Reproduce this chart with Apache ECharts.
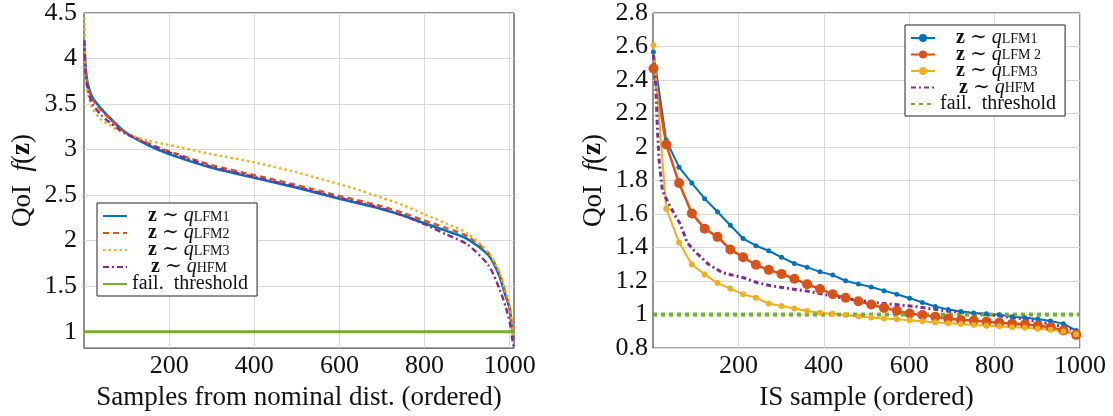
<!DOCTYPE html>
<html>
<head>
<meta charset="utf-8">
<script src="https://cdn.jsdelivr.net/npm/echarts@6/dist/echarts.min.js"></script>
<style>
  html, body { margin: 0; padding: 0; background: #ffffff; }
  #chart { width: 1113px; height: 416px; }
</style>
</head>
<body>
<div id="chart"></div>
<script>
// ---- Left panel: QoI of samples drawn from the nominal distribution (sorted) ----
const nomSampleX = [1, 3, 6, 10, 20, 40, 60, 80, 100, 150, 200, 300, 400, 500, 600, 650, 700, 750, 800, 850, 900, 950, 975, 990, 1000, 1005, 1009];
const nomLFM1 = [4.15, 3.95, 3.80, 3.70, 3.57, 3.45, 3.35, 3.26, 3.18, 3.05, 2.95, 2.80, 2.69, 2.58, 2.46, 2.405, 2.345, 2.275, 2.19, 2.11, 2.02, 1.84, 1.62, 1.40, 1.25, 1.05, 0.92];
const nomLFM2 = [4.10, 3.90, 3.78, 3.68, 3.55, 3.43, 3.34, 3.25, 3.18, 3.07, 2.98, 2.83, 2.72, 2.61, 2.49, 2.435, 2.375, 2.305, 2.22, 2.14, 2.05, 1.86, 1.65, 1.42, 1.25, 1.05, 0.93];
const nomLFM3 = [4.45, 3.95, 3.72, 3.60, 3.45, 3.33, 3.27, 3.21, 3.17, 3.10, 3.05, 2.95, 2.86, 2.75, 2.62, 2.55, 2.47, 2.39, 2.29, 2.19, 2.08, 1.87, 1.66, 1.45, 1.30, 1.08, 0.93];
const nomHFM  = [4.20, 3.90, 3.75, 3.63, 3.50, 3.38, 3.30, 3.23, 3.17, 3.06, 2.97, 2.81, 2.70, 2.59, 2.47, 2.415, 2.355, 2.275, 2.18, 2.07, 1.96, 1.73, 1.48, 1.28, 1.10, 0.95, 0.84];
const nomThresholdX = [0, 1010];
const nomTicksX = [200, 400, 600, 800, 1000];
const nomTicksY = [1, 1.5, 2, 2.5, 3, 3.5, 4, 4.5];

// ---- Right panel: QoI of importance-sampling draws (sorted) ----
const isSampleX = [1, 31, 61, 91, 121, 151, 181, 211, 241, 271, 301, 331, 361, 391, 421, 451, 481, 511, 541, 571, 601, 631, 661, 691, 721, 751, 781, 811, 841, 871, 901, 931, 961, 991];
const isLFM1 = [2.567, 2.04, 1.88, 1.785, 1.692, 1.614, 1.533, 1.454, 1.411, 1.381, 1.342, 1.305, 1.283, 1.255, 1.236, 1.202, 1.182, 1.165, 1.143, 1.121, 1.098, 1.072, 1.048, 1.031, 1.019, 1.009, 1.005, 0.999, 0.987, 0.981, 0.974, 0.962, 0.946, 0.905];
const isLFM2 = [2.469, 2.015, 1.785, 1.604, 1.513, 1.464, 1.389, 1.342, 1.297, 1.267, 1.243, 1.214, 1.181, 1.153, 1.121, 1.101, 1.080, 1.060, 1.040, 1.023, 1.007, 0.997, 0.987, 0.977, 0.968, 0.964, 0.958, 0.952, 0.946, 0.942, 0.934, 0.924, 0.905, 0.879];
const isLFM3 = [2.607, 1.632, 1.431, 1.299, 1.240, 1.188, 1.155, 1.121, 1.100, 1.066, 1.051, 1.036, 1.021, 1.011, 1.005, 0.997, 0.989, 0.983, 0.977, 0.972, 0.966, 0.960, 0.954, 0.948, 0.944, 0.938, 0.934, 0.930, 0.924, 0.921, 0.916, 0.909, 0.899, 0.883];
const hfmSampleX = [1, 6, 10, 14, 22, 35, 50, 64, 80, 97, 130, 163, 212, 245, 280, 320, 361, 411, 451, 485, 526, 568, 609, 650, 692, 733, 774, 816, 857, 898, 940, 973, 992];
const isHFM = [2.55, 2.39, 2.13, 1.93, 1.74, 1.67, 1.60, 1.54, 1.43, 1.38, 1.30, 1.25, 1.22, 1.19, 1.17, 1.155, 1.14, 1.115, 1.095, 1.085, 1.07, 1.06, 1.05, 1.035, 1.02, 1.012, 1.002, 0.99, 0.978, 0.96, 0.94, 0.92, 0.898];
const isThresholdX = [0, 1000];
const isTicksX = [200, 400, 600, 800, 1000];
const isTicksY = [0.8, 1, 1.2, 1.4, 1.6, 1.8, 2, 2.2, 2.4, 2.6, 2.8];

const failThreshold = 1;

const C_BLUE = '#0072BD', C_RED = '#D95319', C_YELLOW = '#EDB120', C_PURPLE = '#7E2F8E', C_GREEN = '#77AC30';
const SERIF = "'Liberation Serif', 'DejaVu Serif', serif";
const INK = '#111111';

const zip = (xs, ys) => xs.map((x, i) => [x, ys[i]]);
const flat = (xs, v) => xs.map(x => [x, v]);

// Legend labels: bold z, italic q, upright subscript
const legendLabels = {
  'nom-LFM1': '{sp| }{b|z}{t| ∼ }{i|q}{s|LFM1}',
  'nom-LFM2': '{sp| }{b|z}{t| ∼ }{i|q}{s|LFM2}',
  'nom-LFM3': '{sp| }{b|z}{t| ∼ }{i|q}{s|LFM3}',
  'nom-HFM':  '{sp2| }{b|z}{t| ∼ }{i|q}{s|HFM}',
  'nom-fail': '{t|fail.  threshold}',
  'is-LFM1': '{sp| }{b|z}{t| ∼ }{i|q}{s|LFM1}',
  'is-LFM2': '{sp| }{b|z}{t| ∼ }{i|q}{s|LFM 2}',
  'is-LFM3': '{sp| }{b|z}{t| ∼ }{i|q}{s|LFM3}',
  'is-HFM':  '{sp2| }{b|z}{t| ∼ }{i|q}{s|HFM}',
  'is-fail': '{t|fail.  threshold}'
};
const LH = 16;
const legendRich = {
  sp: { width: 16, lineHeight: LH },
  sp2: { width: 19, lineHeight: LH },
  t: { lineHeight: LH },
  b: { fontWeight: 'bold', lineHeight: LH },
  i: { fontStyle: 'italic', lineHeight: LH },
  s: { fontSize: 14, lineHeight: 9, verticalAlign: 'bottom' }
};

function makeLegend(names, left, top, gap, hideMarker) {
  return {
    orient: 'vertical',
    left: left, top: top,
    data: names.map(n => ({ name: n, itemStyle: hideMarker(n) ? { opacity: 0 } : {} })),
    itemWidth: 24, itemHeight: 10, itemGap: gap,
    padding: [3, 9, 2, 5],
    backgroundColor: '#ffffff',
    borderColor: '#222222', borderWidth: 1, borderRadius: 0,
    selectedMode: false,
    formatter: n => legendLabels[n],
    textStyle: { fontFamily: SERIF, fontSize: 20, color: INK, lineHeight: LH, rich: legendRich }
  };
}

const plainNumber = v => String(v);
const axisLabelStyle = { fontFamily: SERIF, fontSize: 26, color: INK, formatter: plainNumber };
const splitLineStyle = { show: true, lineStyle: { color: '#d9d9d9', width: 1 } };
const yName = 'QoI  {i|f}({b|z})';
const nameStyle = { fontFamily: SERIF, fontSize: 27, color: INK, rich: { i: { fontStyle: 'italic' }, b: { fontWeight: 'bold' } } };

function lineSeries(name, xi, data, color, width, dash, extra) {
  return Object.assign({
    name: name, type: 'line', xAxisIndex: xi, yAxisIndex: xi,
    data: data, color: color,
    symbol: 'none', showSymbol: false,
    lineStyle: { color: color, width: width, type: dash },
    itemStyle: { color: color },
    z: 2
  }, extra || {});
}

const option = {
  animation: false,
  backgroundColor: '#ffffff',
  grid: [
    { left: 84, top: 11, width: 430, height: 340, show: true, borderColor: '#222222', borderWidth: 1, backgroundColor: 'transparent', containLabel: false },
    { left: 653, top: 13, width: 427, height: 339, show: true, borderColor: '#222222', borderWidth: 1, backgroundColor: 'transparent', containLabel: false }
  ],
  xAxis: [
    {
      type: 'value', gridIndex: 0, min: 0, max: 1010,
      axisLine: { show: false }, axisTick: { show: false, customValues: nomTicksX },
      axisLabel: Object.assign({ margin: 5, customValues: nomTicksX }, axisLabelStyle),
      splitLine: splitLineStyle,
      name: 'Samples from nominal dist. (ordered)', nameLocation: 'middle', nameGap: 32,
      nameTextStyle: { fontFamily: SERIF, fontSize: 27, color: INK }
    },
    {
      type: 'value', gridIndex: 1, min: 0, max: 1000,
      axisLine: { show: false }, axisTick: { show: false, customValues: isTicksX },
      axisLabel: Object.assign({ margin: 5, customValues: isTicksX }, axisLabelStyle),
      splitLine: splitLineStyle,
      name: 'IS sample (ordered)', nameLocation: 'middle', nameGap: 32,
      nameTextStyle: { fontFamily: SERIF, fontSize: 27, color: INK }
    }
  ],
  yAxis: [
    {
      type: 'value', gridIndex: 0, min: 0.82, max: 4.5,
      axisLine: { show: false }, axisTick: { show: false, customValues: nomTicksY },
      axisLabel: Object.assign({ margin: 7, customValues: nomTicksY }, axisLabelStyle),
      splitLine: splitLineStyle,
      name: yName, nameLocation: 'middle', nameRotate: 90, nameGap: 48, nameTextStyle: nameStyle
    },
    {
      type: 'value', gridIndex: 1, min: 0.8, max: 2.8,
      axisLine: { show: false }, axisTick: { show: false, customValues: isTicksY },
      axisLabel: Object.assign({ margin: 5, customValues: isTicksY }, axisLabelStyle),
      splitLine: splitLineStyle,
      name: yName, nameLocation: 'middle', nameRotate: 90, nameGap: 46, nameTextStyle: nameStyle
    }
  ],
  legend: [
    makeLegend(['nom-LFM1', 'nom-LFM2', 'nom-LFM3', 'nom-HFM', 'nom-fail'], 97, 203, -3, () => true),
    makeLegend(['is-LFM1', 'is-LFM2', 'is-LFM3', 'is-HFM', 'is-fail'], 905, 25, -3.5, n => n === 'is-HFM' || n === 'is-fail')
  ],
  series: [
    lineSeries('nom-LFM1', 0, zip(nomSampleX, nomLFM1), C_BLUE, 2.6, 'solid', { smooth: 0.25 }),
    lineSeries('nom-LFM2', 0, zip(nomSampleX, nomLFM2), C_RED, 2.4, [6, 4], { smooth: 0.25 }),
    lineSeries('nom-LFM3', 0, zip(nomSampleX, nomLFM3), C_YELLOW, 2.4, [2.5, 3], { smooth: 0.25 }),
    lineSeries('nom-HFM', 0, zip(nomSampleX, nomHFM), C_PURPLE, 2.4, [6, 3, 2, 3], { smooth: 0.25 }),
    lineSeries('nom-fail', 0, flat(nomThresholdX, failThreshold), C_GREEN, 3, 'solid'),

    lineSeries('is-LFM1', 1, zip(isSampleX, isLFM1), C_BLUE, 2, 'solid', { symbol: 'circle', symbolSize: 5, showSymbol: true, showAllSymbol: true }),
    lineSeries('is-LFM2', 1, zip(isSampleX, isLFM2), C_RED, 2.5, 'solid', { symbol: 'circle', symbolSize: 10, showSymbol: true, showAllSymbol: true }),
    lineSeries('is-LFM3', 1, zip(isSampleX, isLFM3), C_YELLOW, 2, 'solid', { symbol: 'circle', symbolSize: 6, showSymbol: true, showAllSymbol: true }),
    lineSeries('is-HFM', 1, zip(hfmSampleX, isHFM), C_PURPLE, 3, [5, 3, 2, 3]),
    lineSeries('is-fail', 1, flat(isThresholdX, failThreshold), C_GREEN, 4, [4, 4])
  ]
};

const chart = echarts.init(document.getElementById('chart'), null, { renderer: 'canvas' });
chart.setOption(option);
</script>
</body>
</html>
